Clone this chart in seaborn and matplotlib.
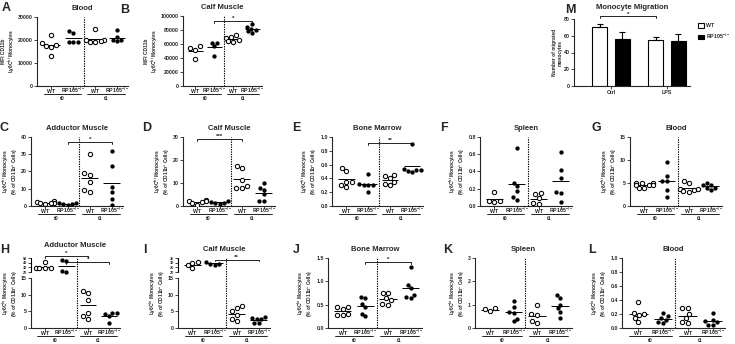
import numpy as np
import pandas as pd
import matplotlib
matplotlib.use("Agg")
import matplotlib.pyplot as plt
from matplotlib.patches import Patch
import seaborn as sns

sns.set_style("ticks")
plt.rcParams['font.family'] = ['Liberation Sans', 'DejaVu Sans']
plt.rcParams['mathtext.default'] = 'regular'
plt.rcParams['font.weight'] = 'bold'

# ---------------- data ----------------
group_order = ["WT t0", "RP105 t0", "WT t1", "RP105 t1"]
genotype_labels = ["WT", "RP105$^{-/-}$", "WT", "RP105$^{-/-}$"]
time_labels = ["t0", "t1"]

# A: Blood, MFI CD11b Ly6Chi
A_wt_t0 = [22000, 18500, 18000, 17500, 17000, 13000]
A_rp_t0 = [24000, 23000, 19000, 19000, 19200]
A_wt_t1 = [24800, 20000, 19500, 19000, 19200, 19800]
A_rp_t1 = [24300, 21500, 20000, 19500, 20000]
# B: Calf muscle, MFI
B_wt_t0 = [52000, 54000, 57000, 38000]
B_rp_t0 = [62000, 62000, 57000, 43000]
B_wt_t1 = [73000, 70000, 68000, 66000, 64000, 63000]
B_rp_t1 = [88000, 82000, 80000, 78000, 76000, 84000]
# C: Adductor muscle Ly6Chi
C_wt_t0 = [3, 2.5, 2, 2, 1.5, 1]
C_rp_t0 = [1.8, 1.5, 1.2, 1, 0.5]
C_wt_t1 = [30, 19, 18, 14, 9, 8]
C_rp_t1 = [32, 23, 11, 8, 4, 0.5]
# D: Calf muscle Ly6Chi
D_wt_t0 = [2.5, 2, 2, 1.8, 1.5, 0.5]
D_rp_t0 = [2, 1.8, 1.5, 1.5, 1]
D_wt_t1 = [17.5, 16.5, 11.5, 8.5, 8, 8]
D_rp_t1 = [10, 8, 7, 5, 2, 2]
# E: Bone marrow Ly6Chi
E_wt_t0 = [0.55, 0.50, 0.35, 0.35, 0.30, 0.27]
E_rp_t0 = [0.46, 0.32, 0.31, 0.30, 0.31, 0.20]
E_wt_t1 = [0.45, 0.43, 0.40, 0.35, 0.32, 0.30]
E_rp_t1 = [0.90, 0.53, 0.52, 0.50, 0.52, 0.49]
# F: Spleen Ly6Chi
F_wt_t0 = [0.16, 0.06, 0.05, 0.06]
F_rp_t0 = [0.67, 0.27, 0.23, 0.17, 0.10, 0.07]
F_wt_t1 = [0.15, 0.14, 0.09, 0.03, 0.02]
F_rp_t1 = [0.63, 0.42, 0.33, 0.16, 0.15, 0.05]
# G: Blood Ly6Chi
G_wt_t0 = [5, 5, 5, 4.5, 4.5, 4, 4, 4.5]
G_rp_t0 = [9.5, 6.5, 5.5, 5.5, 3.5, 2]
G_wt_t1 = [5.5, 5, 3.8, 3.5, 3.3, 3, 3.8]
G_rp_t1 = [5, 4.5, 4, 4, 3.5, 4.5]
# H: Adductor muscle Ly6Clo
H_wt_t0 = [41, 29, 28, 28, 28.5]
H_rp_t0 = [46, 43, 22, 21]
H_wt_t1 = [11.1, 10.5, 8.3, 4.6, 3.5, 2.6]
H_rp_t1 = [4.6, 4.5, 4.2, 3.5, 1.6]
# I: Calf muscle Ly6Clo
I_wt_t0 = [31, 30, 27, 24]
I_rp_t0 = [31, 29, 29, 28]
I_wt_t1 = [6.5, 5.9, 5.0, 4.0, 2.6, 2.0]
I_rp_t1 = [3.3, 3.0, 2.7, 2.6, 1.6, 1.5]
# J: Bone marrow Ly6Clo
J_wt_t0 = [0.45, 0.44, 0.40, 0.30, 0.28, 0.27]
J_rp_t0 = [0.67, 0.65, 0.52, 0.45, 0.30, 0.25]
J_wt_t1 = [0.75, 0.75, 0.65, 0.60, 0.52, 0.50]
J_rp_t1 = [1.30, 0.92, 0.85, 0.70, 0.67, 0.65]
# K: Spleen Ly6Clo
K_wt_t0 = [0.85, 0.80, 0.72]
K_rp_t0 = [1.15, 0.90, 0.70, 0.65, 0.40, 0.30]
K_wt_t1 = [1.0, 0.6, 0.55, 0.3, 0.2]
K_rp_t1 = [1.4, 1.3, 1.0, 0.85, 0.7, 0.45]
# L: Blood Ly6Clo
L_wt_t0 = [0.37, 0.22, 0.20, 0.19, 0.14, 0.08]
L_rp_t0 = [0.22, 0.17, 0.14, 0.12, 0.08, 0.07]
L_wt_t1 = [0.29, 0.28, 0.20, 0.14, 0.08, 0.07]
L_rp_t1 = [0.21, 0.12, 0.10, 0.08, 0.05, 0.05]
# M: Monocyte migration
mig_conditions = ["Ctrl", "LPS"]
mig_genotypes = ["WT", "RP105$^{-/-}$"]
mig_wt = [70, 55]
mig_rp = [56, 54]
mig_wt_sem = [3.5, 4]
mig_rp_sem = [8, 8]

# ---------------- layout ----------------
W, H = 735, 344
fig = plt.figure(figsize=(W / 100, H / 100), dpi=100)


def rect(l, r, t, b):
    return [l / W, 1 - b / H, (r - l) / W, (b - t) / H]


TICK = 3.8
LAB = 3.5


def style_axes(ax):
    sns.despine(ax=ax)
    for s in ("left", "bottom"):
        ax.spines[s].set_linewidth(0.8)
    ax.tick_params(labelsize=TICK, length=2, width=0.6, pad=1)


def broken_scale(gap_units, k):
    def fwd(y):
        y = np.asarray(y, dtype=float)
        return np.where(y <= 15, y,
                        np.where(y < 20, 15 + (y - 15) * gap_units / 5,
                                 15 + gap_units + (y - 20) * k))

    def inv(u):
        u = np.asarray(u, dtype=float)
        return np.where(u <= 15, u,
                        np.where(u < 15 + gap_units, 15 + (u - 15) * 5 / gap_units,
                                 20 + (u - 15 - gap_units) / k))
    return fwd, inv


def bracket(ax, x1, x2, y, drop, text):
    ax.plot([x1, x1, x2, x2], [y - drop, y, y, y - drop], color="black",
            lw=0.6, clip_on=False)
    ax.text((x1 + x2) / 2, y, text, ha="center", va="bottom",
            fontsize=4.5, fontweight="bold")


def scatter_panel(box, series, title, ylim, yticks, ylabel, yticklabels=None,
                  scale=None, brackets=(), title_pad=5):
    ax = fig.add_axes(rect(*box))
    frames = []
    for name, vals in zip(group_order, series):
        frames.append(pd.DataFrame({"group": name, "value": vals,
                                    "geno": "WT" if name.startswith("WT") else "RP105"}))
    df = pd.concat(frames, ignore_index=True)
    sns.swarmplot(data=df[df.geno == "WT"], x="group", y="value",
                  order=group_order, ax=ax, color="white", edgecolor="black",
                  linewidth=0.75, size=3.1, zorder=4)
    sns.swarmplot(data=df[df.geno == "RP105"], x="group", y="value",
                  order=group_order, ax=ax, color="black", linewidth=0,
                  size=3.1, zorder=4)
    means = df.groupby("group")["value"].mean().reindex(group_order)
    xs = np.arange(len(group_order))
    ax.hlines(means.values, xs - 0.38, xs + 0.38, color="black", lw=0.7, zorder=3)
    ax.axvline(1.5, color="black", lw=0.8, ls=(0, (1.2, 1.0)))
    if scale is not None:
        ax.set_yscale("function", functions=scale)
    ax.set_xlim(-0.65, 3.5)
    ax.set_ylim(*ylim)
    ax.set_yticks(yticks)
    if yticklabels is not None:
        ax.set_yticklabels(yticklabels)
    ax.set_xticks(xs)
    ax.set_xticklabels([])
    ax.set_xlabel("")
    ax.set_ylabel(ylabel, fontsize=LAB, fontweight="bold", labelpad=0.8,
                  linespacing=1.0)
    ax.set_title(title, fontsize=5.5, fontweight="bold", pad=title_pad)
    style_axes(ax)
    tr = ax.get_xaxis_transform()
    for x, lab in zip(xs, genotype_labels):
        ax.text(x, -0.095, lab, transform=tr, ha="center", va="baseline",
                fontsize=TICK, fontweight="bold")
    for i, t in enumerate(time_labels):
        ax.plot([2 * i - 0.35, 2 * i + 1.35], [-0.115, -0.115], transform=tr,
                color="black", lw=0.6, clip_on=False)
        ax.text(2 * i + 0.5, -0.18, t, transform=tr, ha="center", va="center",
                fontsize=TICK, fontweight="bold")
    if scale is not None:
        # broken y axis: lower segment 0-15, upper segment 20-top
        ax.spines["left"].set_bounds(0, 15)
        ax.plot([0, 0], [20, ylim[1]], transform=ax.get_yaxis_transform(),
                color="black", lw=0.8, clip_on=False)
        for lbl, v in zip(ax.get_yticklabels(), yticks):
            if v > 15:
                lbl.set_fontsize(2.8)
    for b in brackets:
        bracket(ax, *b)
    return ax


mfi_label = "MFI CD11b\nLy6C$^{hi}$ Monocytes"
hi_label = "Ly6C$^{hi}$ Monocytes\n(% of CD11b$^{+}$ Cells)"
lo_label = "Ly6C$^{lo}$ Monocytes\n(% of CD11b$^{+}$ Cells)"

scatter_panel((37, 128, 17, 86), [A_wt_t0, A_rp_t0, A_wt_t1, A_rp_t1], "Blood",
              (0, 30000), [0, 10000, 20000, 30000], mfi_label)
scatter_panel((183, 262, 16, 86), [B_wt_t0, B_rp_t0, B_wt_t1, B_rp_t1], "Calf Muscle",
              (0, 100000), [0, 20000, 40000, 60000, 80000, 100000], mfi_label,
              brackets=[(1, 3, 93000, 3000, "*")])
scatter_panel((31, 123, 137, 206), [C_wt_t0, C_rp_t0, C_wt_t1, C_rp_t1], "Adductor Muscle",
              (0, 40), [0, 10, 20, 30, 40], hi_label,
              brackets=[(1, 3, 37, 1.2, "*")])
scatter_panel((183, 275, 137, 206), [D_wt_t0, D_rp_t0, D_wt_t1, D_rp_t1], "Calf Muscle",
              (0, 30), [0, 10, 20, 30], hi_label,
              brackets=[(0, 2, 29, 0.9, "***")])
scatter_panel((332, 423, 137, 206), [E_wt_t0, E_rp_t0, E_wt_t1, E_rp_t1], "Bone Marrow",
              (0, 1.0), [0.0, 0.2, 0.4, 0.6, 0.8, 1.0], hi_label,
              yticklabels=["0.0", "0.2", "0.4", "0.6", "0.8", "1.0"],
              brackets=[(1, 3, 0.92, 0.03, "**")])
scatter_panel((480, 572, 137, 206), [F_wt_t0, F_rp_t0, F_wt_t1, F_rp_t1], "Spleen",
              (0, 0.8), [0.0, 0.2, 0.4, 0.6, 0.8], hi_label,
              yticklabels=["0.0", "0.2", "0.4", "0.6", "0.8"])
scatter_panel((630, 722, 137, 206), [G_wt_t0, G_rp_t0, G_wt_t1, G_rp_t1], "Blood",
              (0, 15), [0, 5, 10, 15], hi_label)

scatter_panel((31, 120, 258, 328), [H_wt_t0, H_rp_t0, H_wt_t1, H_rp_t1], "Adductor Muscle",
              (0, 50), [0, 5, 10, 15, 20, 30, 40, 50], lo_label,
              scale=broken_scale(1.8, 0.14),
              brackets=[(0, 2, 54, 4, "*"), (1, 3, 41, 4, "*")], title_pad=8)
scatter_panel((178, 270, 258, 328), [I_wt_t0, I_rp_t0, I_wt_t1, I_rp_t1], "Calf Muscle",
              (0, 35), [0, 5, 10, 15, 20, 25, 30, 35], lo_label,
              scale=broken_scale(1.8, 0.28),
              brackets=[(1, 3, 33, 1.5, "**")])
scatter_panel((328, 422, 258, 328), [J_wt_t0, J_rp_t0, J_wt_t1, J_rp_t1], "Bone Marrow",
              (0, 1.5), [0.0, 0.5, 1.0, 1.5], lo_label,
              yticklabels=["0.0", "0.5", "1.0", "1.5"],
              brackets=[(1, 3, 1.42, 0.04, "*")])
scatter_panel((475, 572, 258, 328), [K_wt_t0, K_rp_t0, K_wt_t1, K_rp_t1], "Spleen",
              (0, 3), [0, 1, 2, 3], lo_label)
scatter_panel((622, 725, 258, 328), [L_wt_t0, L_rp_t0, L_wt_t1, L_rp_t1], "Blood",
              (0, 1.0), [0.0, 0.2, 0.4, 0.6, 0.8, 1.0], lo_label,
              yticklabels=["0.0", "0.2", "0.4", "0.6", "0.8", "1.0"])

# ---------------- M: bar chart ----------------
axM = fig.add_axes(rect(574, 690, 19, 86))
mdf = pd.DataFrame({
    "condition": mig_conditions * 2,
    "genotype": [mig_genotypes[0]] * 2 + [mig_genotypes[1]] * 2,
    "value": mig_wt + mig_rp,
})
sns.barplot(data=mdf, x="condition", y="value", hue="genotype",
            order=mig_conditions, hue_order=mig_genotypes,
            palette={mig_genotypes[0]: "white", mig_genotypes[1]: "black"},
            edgecolor="black", linewidth=0.8, gap=0.32, errorbar=None,
            legend=False, ax=axM)
bars = sorted(axM.patches, key=lambda p: p.get_x())
sems = [mig_wt_sem[0], mig_rp_sem[0], mig_wt_sem[1], mig_rp_sem[1]]
bx = [p.get_x() + p.get_width() / 2 for p in bars]
bh = [p.get_height() for p in bars]
axM.errorbar(bx, bh, yerr=[np.zeros(len(sems)), sems], fmt="none",
             ecolor="black", elinewidth=0.8, capsize=2, capthick=0.8, zorder=5)
axM.set_xlim(-0.66, 1.41)
axM.set_ylim(0, 80)
axM.set_yticks([0, 20, 40, 60, 80])
axM.set_xlabel("")
axM.set_ylabel("Number of migrated\nmonocytes", fontsize=LAB, fontweight="bold",
               labelpad=1, linespacing=1.0)
axM.set_title("Monocyte Migration", fontsize=5.5, fontweight="bold", pad=7)
style_axes(axM)
bracket(axM, bx[0], bx[2], 83, 2, "*")
handles = [Patch(facecolor="white", edgecolor="black", lw=0.8, label=mig_genotypes[0]),
           Patch(facecolor="black", edgecolor="black", lw=0.8, label=mig_genotypes[1])]
axM.legend(handles=handles, loc="upper left", bbox_to_anchor=(1.05, 0.97),
           frameon=False, fontsize=3.8, handlelength=1.1, handleheight=0.9,
           handletextpad=0.5, borderaxespad=0, labelspacing=0.7)

# ---------------- panel letters ----------------
letters = {"A": (2, 8), "B": (120, 10), "M": (565, 10),
           "C": (0, 128), "D": (142, 128), "E": (292, 128), "F": (440, 128), "G": (592, 128),
           "H": (0, 250), "I": (143, 250), "J": (293, 250), "K": (443, 250), "L": (588, 250)}
for k, (x, y) in letters.items():
    fig.text(x / W, 1 - y / H, k, fontsize=9, fontweight="bold", va="center", ha="left")

fig.savefig("out.png", dpi=100)
